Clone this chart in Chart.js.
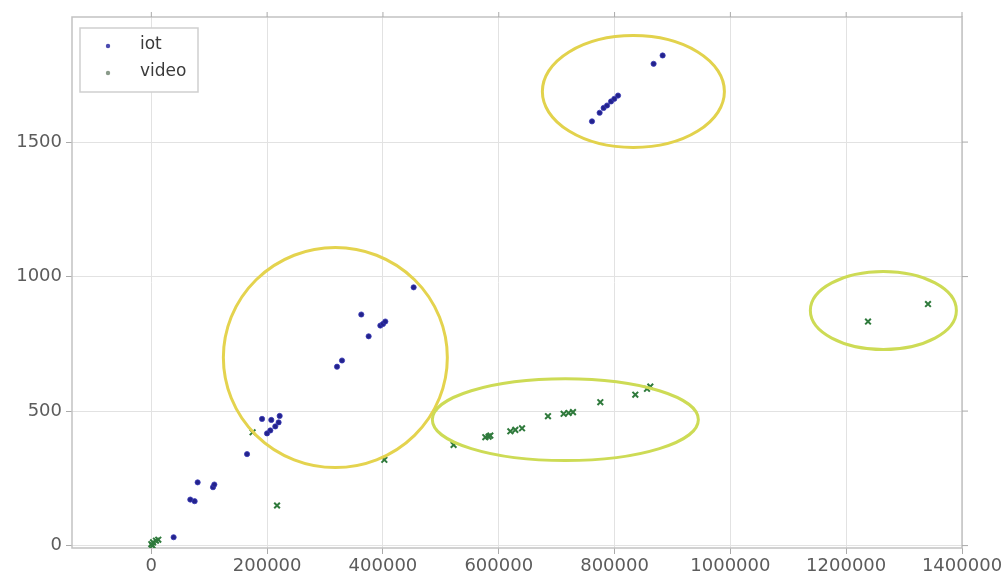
<!DOCTYPE html>
<html>
<head>
<meta charset="utf-8">
<script src="https://cdn.jsdelivr.net/npm/chart.js@4"></script>
<style>
  html, body { margin: 0; padding: 0; background: #fff; }
  canvas { display: block; }
</style>
</head>
<body>
<canvas id="chart" width="1008" height="577"></canvas>
<script>
// tick labels
const xTicks = [0, 200000, 400000, 600000, 800000, 1000000, 1200000, 1400000];
const yTicks = [0, 500, 1000, 1500];

// iot series
const iotX = [38500, 67300, 74800, 80000, 106500, 108800, 165300, 191200, 207200, 221600,
  219800, 214100, 205500, 199800, 320700, 329300, 375300, 362600, 395500, 400100,
  404100, 453000, 761000, 774200, 781100, 787000, 793900, 799600, 806000, 867400, 883000];
const iotY = [31, 171, 165, 235, 217, 227, 340, 471, 467, 482,
  458, 443, 428, 417, 665, 688, 778, 859, 818, 824,
  833, 960, 1577, 1609, 1627, 1636, 1651, 1661, 1673, 1791, 1822];

// video series
const videoX = [0, 3000, 8000, 12000, 2000, 217100, 174900, 402400, 522000, 576800,
  582500, 585400, 620000, 628600, 640200, 685000, 712000, 720600, 728200, 775400,
  835800, 856000, 861700, 1237700, 1341300];
const videoY = [5, 12, 18, 22, 0, 149, 421, 319, 374, 403,
  405, 409, 425, 430, 436, 481, 490, 493, 496, 533,
  561, 583, 591, 833, 898];

// hand-drawn highlight rings (data units)
const rings = [
  { cx: 317800, cy: 699, rx: 193400, ry: 409, color: "#e4d34e" },
  { cx: 832500, cy: 1688, rx: 157200, ry: 208, color: "#e2d24c" },
  { cx: 715000, cy: 468, rx: 229700, ry: 152, color: "#cddb55" },
  { cx: 1264200, cy: 874, rx: 126100, ry: 145, color: "#cddb55" },
];

const toPoints = (xs, ys) => xs.map((x, i) => ({ x: x, y: ys[i] }));

const tickFont = { family: "DejaVu Sans", size: 18 };
const tickColor = "#5c5c5c";

const framePlugin = {
  id: "frame",
  beforeDatasetsDraw(chart) {
    const { ctx, chartArea: a, scales } = chart;
    ctx.save();
    ctx.strokeStyle = "#c2c2c2";
    ctx.lineWidth = 1.5;
    ctx.strokeRect(a.left, a.top, a.right - a.left, a.bottom - a.top);
    // ticks on top and right sides
    ctx.strokeStyle = "#aaa";
    ctx.lineWidth = 1;
    xTicks.forEach((v) => {
      const px = scales.x.getPixelForValue(v);
      ctx.beginPath();
      ctx.moveTo(px, a.top);
      ctx.lineTo(px, a.top - 5);
      ctx.stroke();
    });
    yTicks.forEach((v) => {
      const py = scales.y.getPixelForValue(v);
      ctx.beginPath();
      ctx.moveTo(a.right, py);
      ctx.lineTo(a.right + 6, py);
      ctx.stroke();
    });
    ctx.restore();
  },
};

const ringPlugin = {
  id: "rings",
  afterDatasetsDraw(chart) {
    const { ctx, scales } = chart;
    ctx.save();
    ctx.lineWidth = 3;
    rings.forEach((r) => {
      const cx = scales.x.getPixelForValue(r.cx);
      const cy = scales.y.getPixelForValue(r.cy);
      const rx = Math.abs(scales.x.getPixelForValue(r.cx + r.rx) - cx);
      const ry = Math.abs(scales.y.getPixelForValue(r.cy + r.ry) - cy);
      ctx.strokeStyle = r.color;
      ctx.beginPath();
      ctx.ellipse(cx, cy, rx, ry, 0, 0, Math.PI * 2);
      ctx.stroke();
    });
    ctx.restore();
  },
};

const legendPlugin = {
  id: "boxLegend",
  afterDraw(chart) {
    const { ctx } = chart;
    const bx = 80, by = 28, bw = 118, bh = 64;
    ctx.save();
    ctx.fillStyle = "#fff";
    ctx.fillRect(bx, by, bw, bh);
    ctx.strokeStyle = "#cfcfcf";
    ctx.lineWidth = 1.5;
    ctx.strokeRect(bx, by, bw, bh);
    ctx.font = "17px 'DejaVu Sans'";
    ctx.textBaseline = "middle";
    chart.data.datasets.forEach((ds, i) => {
      const y = by + 18 + i * 27;
      ctx.fillStyle = i === 0 ? "#4a4ab0" : "#8a9a8a";
      ctx.beginPath();
      ctx.arc(bx + 28, y, 2.2, 0, Math.PI * 2);
      ctx.fill();
      ctx.fillStyle = "#3a3a3a";
      ctx.fillText(ds.label, bx + 60, y - 1);
    });
    ctx.restore();
  },
};

new Chart(document.getElementById("chart").getContext("2d"), {
  type: "scatter",
  data: {
    datasets: [
      {
        label: "iot",
        data: toPoints(iotX, iotY),
        pointStyle: "circle",
        pointRadius: 2.6,
        backgroundColor: "#23238c",
        borderColor: "#3a3ab8",
        borderWidth: 0.8,
      },
      {
        label: "video",
        data: toPoints(videoX, videoY),
        pointStyle: "crossRot",
        pointRadius: 4,
        borderColor: "#2f7a3c",
        backgroundColor: "#2f7a3c",
        borderWidth: 2,
      },
    ],
  },
  options: {
    responsive: false,
    animation: false,
    devicePixelRatio: 1,
    layout: { padding: { top: 17, right: 46, left: 0, bottom: 0 } },
    plugins: {
      legend: { display: false },
      tooltip: { enabled: false },
    },
    scales: {
      x: {
        type: "linear",
        min: -137000,
        max: 1400000,
        afterBuildTicks: (s) => { s.ticks = xTicks.map((v) => ({ value: v })); },
        afterFit: (s) => { s.height = 29; },
        border: { display: false },
        grid: { color: "#e2e2e2", tickColor: "#aaa", tickLength: 6 },
        ticks: {
          font: tickFont,
          color: tickColor,
          padding: 2,
          maxRotation: 0,
          autoSkip: false,
          callback: (v) => String(v),
        },
      },
      y: {
        type: "linear",
        min: -9,
        max: 1965,
        afterBuildTicks: (s) => { s.ticks = yTicks.map((v) => ({ value: v })); },
        afterFit: (s) => { s.width = 72; },
        border: { display: false },
        grid: { color: "#e2e2e2", tickColor: "#aaa", tickLength: 6 },
        ticks: {
          font: tickFont,
          color: tickColor,
          padding: 4,
          autoSkip: false,
          callback: (v) => String(v),
        },
      },
    },
  },
  plugins: [framePlugin, ringPlugin, legendPlugin],
});
</script>
</body>
</html>
